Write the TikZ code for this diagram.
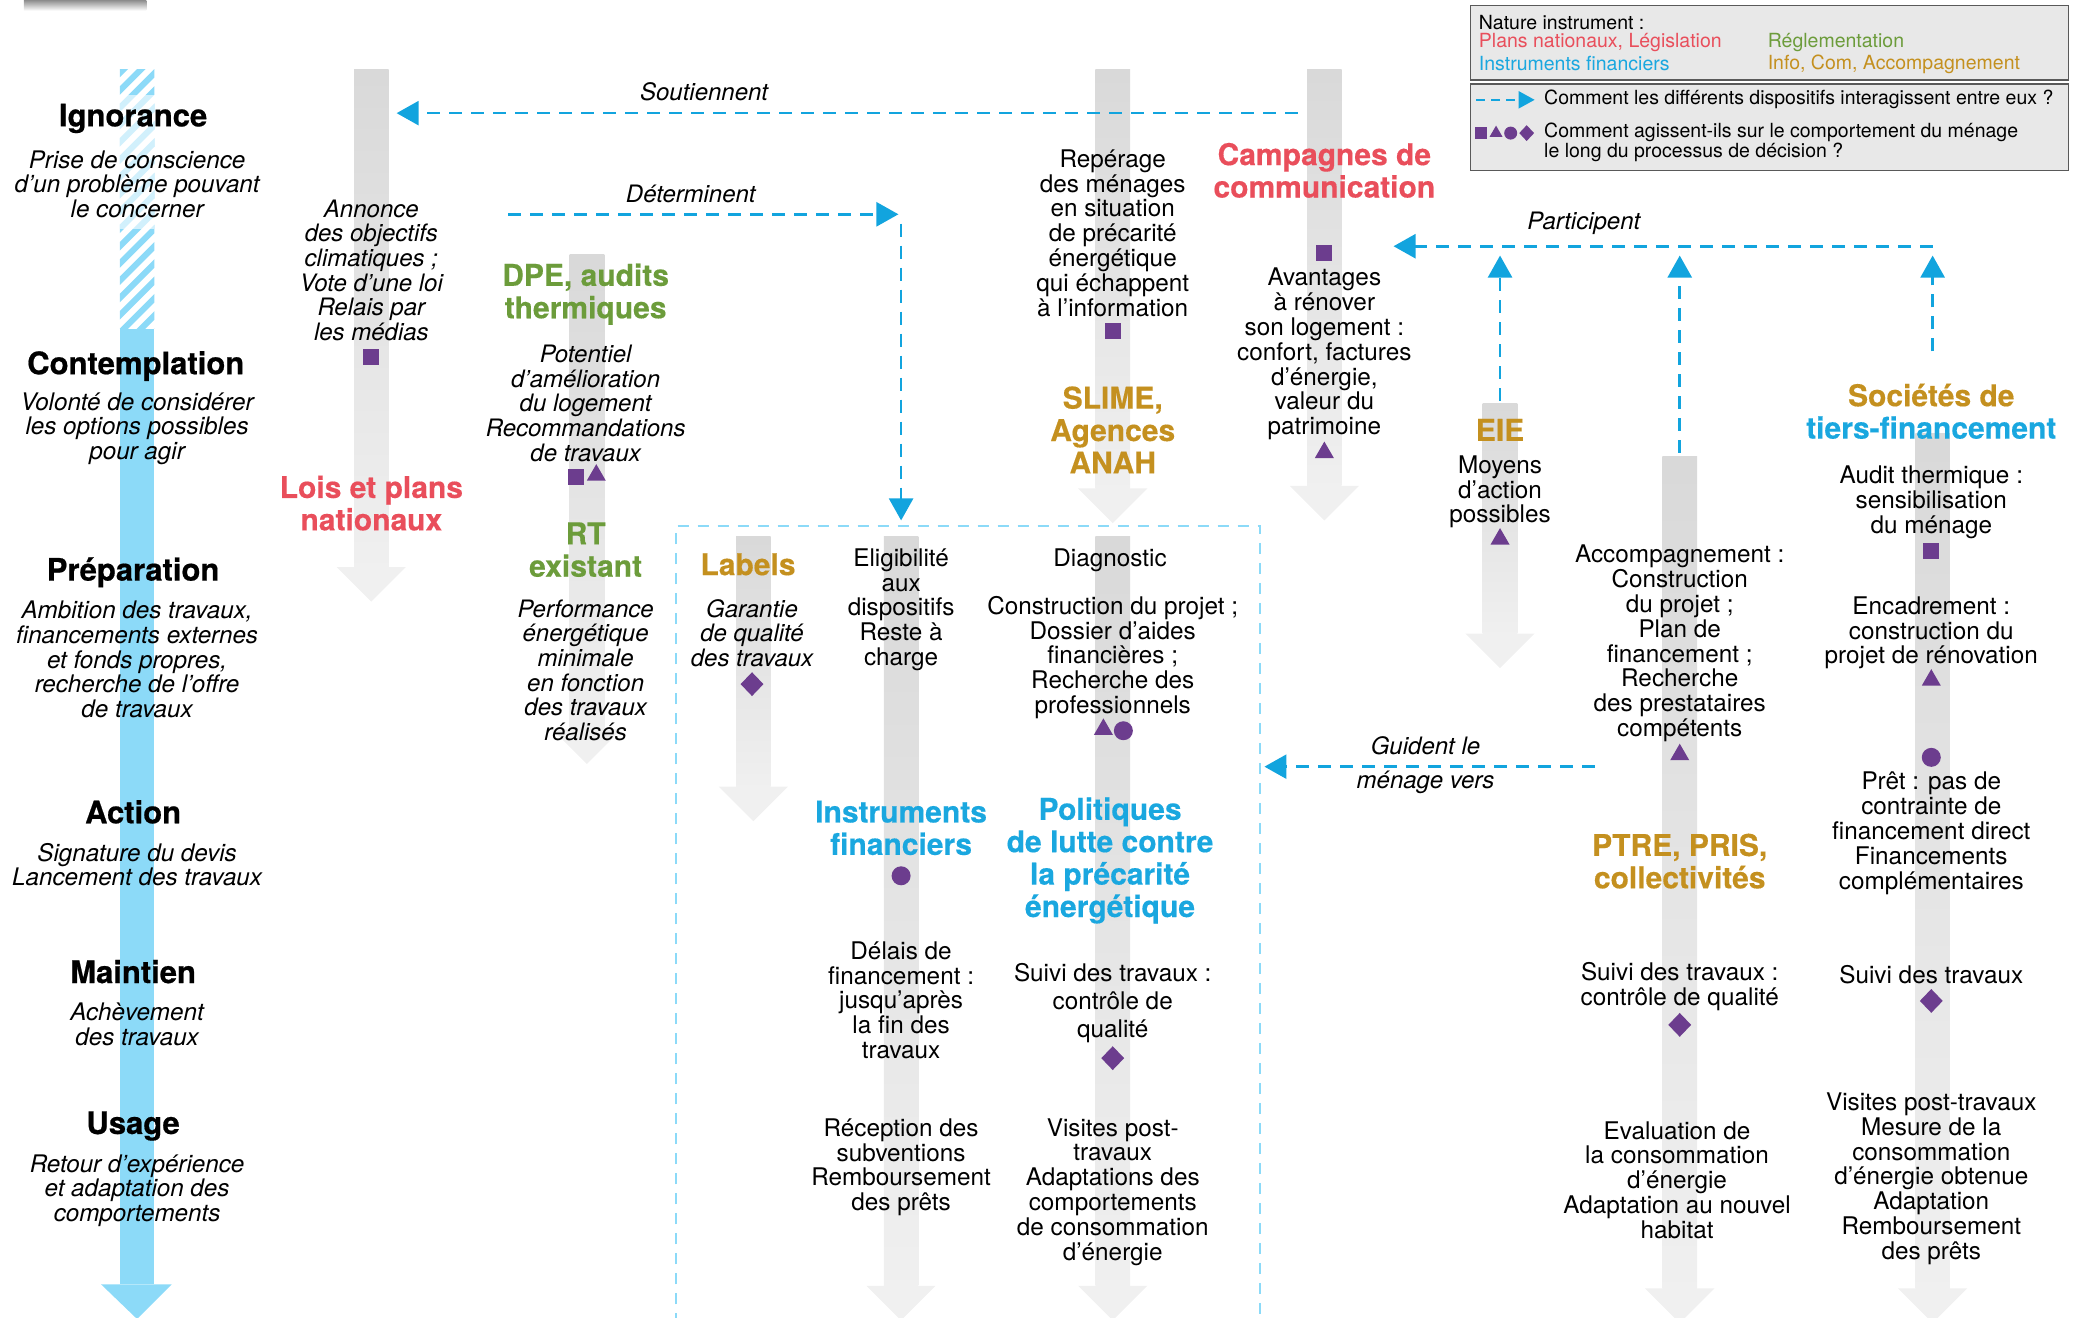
\documentclass[tikz,border=0pt]{standalone}
\usepackage{fontspec}
\setmainfont{TeX Gyre Heros}
\newfontfamily\heavyfont[FakeBold = 0.6]{TeX Gyre Heros}
\newfontfamily\titlefont[FakeBold = 0.35]{TeX Gyre Heros}
\usetikzlibrary{arrows.meta}
\usetikzlibrary{shapes.geometric}
\definecolor{plansred}{HTML}{E94E5B}
\definecolor{reglgreen}{HTML}{6C9C3B}
\definecolor{infogold}{HTML}{C4901F}
\definecolor{finblue}{HTML}{1AA7DF}
\definecolor{flowblue}{HTML}{12A4DE}
\definecolor{markpurple}{HTML}{6C3D8E}

\begin{document}
\begin{tikzpicture}[x = 1.331pt, y = -1.331pt,
  stage/.style = {font = \fontsize{31}{32}\selectfont\heavyfont\bfseries, inner sep = 0},
  stagetxt/.style = {align = center, font = \fontsize{24.2}{24.6}\selectfont\itshape, inner sep = 0},
  txt/.style = {align = center, font = \fontsize{24.3}{24.8}\selectfont, inner sep = 0},
  ittxt/.style = {txt, font = \fontsize{24}{24.6}\selectfont\itshape},
  ttl/.style = {align = center, font = \fontsize{30}{32.4}\selectfont\titlefont\bfseries, inner sep = 0},
  flow/.style = {draw = flowblue, line width = 2.6pt, dash pattern = on 13pt off 9pt, -{Triangle[length = 22pt, width = 24pt]}},
  flowlbl/.style = {font = \fontsize{24}{24}\selectfont\itshape, inner sep = 0},
  boxline/.style = {draw = boxblue, line width = 2pt, dash pattern = on 11pt off 9pt},
  mk/.style = {fill = markpurple, inner sep = 0},
  mksq/.style = {mk, rectangle, minimum size = 16pt},
  mktri/.style = {mk, regular polygon, regular polygon sides = 3, minimum size = 22pt},
  mkdot/.style = {mk, circle, minimum size = 19pt},
  mkdia/.style = {mk, diamond, minimum width = 23pt, minimum height = 24pt},
  legend/.style = {font = \fontsize{19.5}{19.5}\selectfont, inner sep = 0, anchor = west, align = left}]

\colorlet{timeline}{cyan!45!white}
\colorlet{boxblue}{cyan!45!white}
\colorlet{bartop}{black!15}
\colorlet{barbot}{black!6}
\colorlet{barhead}{black!6}

\def\grayarrow#1#2#3{%
  \shade[top color = bartop, bottom color = barbot] (#1-13,#2) rectangle (#1+13,#3);
  \fill[barhead] (#1-26,#3) -- (#1+26,#3) -- (#1,#3+26) -- cycle;}

\useasboundingbox (0,0) rectangle (1568,990);

\shade[top color = black!45, bottom color = white] (18,0) rectangle (110,8);

% decision timeline
\begin{scope}
\clip (90,52) rectangle (116,247);
\fill[white] (90,52) rectangle (116,247);
\foreach \k in {0,...,22} \draw[timeline, line width = 6pt] (80,52+\k*13) -- (130,2+\k*13);
\fill[white, opacity = 0.6] (90,71) rectangle (116,172);
\end{scope}
\fill[timeline] (90,247) rectangle (116,965);
\fill[timeline] (76,965) -- (129,965) -- (103,991) -- cycle;

% instrument columns
\grayarrow{279}{52}{426}
\grayarrow{441}{191}{548}
\grayarrow{566}{403}{591}
\grayarrow{677}{403}{966}
\grayarrow{836}{403}{966}
\grayarrow{836}{52}{367}
\grayarrow{995}{52}{365}
\grayarrow{1127}{303}{476}
\grayarrow{1262}{343}{968}
\grayarrow{1452}{326}{968}

\draw[boxline] (508,995) -- (508,395) -- (947,395) -- (947,995);

\node[stage] (ignor) at (100,89) {Ignorance};
\node[stagetxt] (ignorT) at (103,138.5) {Prise de conscience\\d’un problème pouvant\\le concerner};
\node[stage] (contemp) at (102,275) {Contemplation};
\node[stagetxt] (contempT) at (103,322) {Volonté de considérer\\les options possibles\\pour agir};
\node[stage] (prep) at (100,430) {Préparation};
\node[stagetxt] (prepT) at (103,495.5) {Ambition des travaux,\\financements externes\\et fonds propres,\\recherche de l’offre\\de travaux};
\node[stage] (action) at (100,610) {Action};
\node[stagetxt] (actionT) at (103,649.5) {Signature du devis\\Lancement des travaux};
\node[stage] (maint) at (100,730) {Maintien};
\node[stagetxt] (maintT) at (103,769.5) {Achèvement\\des travaux};
\node[stage] (usage) at (100,846) {Usage};
\node[stagetxt] (usageT) at (103,894.5) {Retour d’expérience\\et adaptation des\\comportements};

\node[ittxt] (loisT) at (279,203) {Annonce\\des objectifs\\climatiques ;\\Vote d’une loi\\Relais par\\les médias};
\node[mksq] (loisM) at (279,268) {};
\node[ttl, text = plansred] (lois) at (279,378) {Lois et plans\\nationaux};

\node[ttl, text = reglgreen] (dpe) at (440,221) {DPE, audits\\thermiques};
\node[ittxt] (dpeT) at (440,303) {Potentiel\\d’amélioration\\du logement\\Recommandations\\de travaux};
\node[mksq] (dpeM1) at (433,358) {};
\node[mktri] (dpeM2) at (448,357) {};
\node[ttl, text = reglgreen] (rt) at (440,413) {RT\\existant};
\node[ittxt] (rtT) at (440,503.5) {Performance\\énergétique\\minimale\\en fonction\\des travaux\\réalisés};

\node[ttl, text = infogold] (labels) at (562,424) {Labels};
\node[ittxt] (labelsT) at (565,475.5) {Garantie\\de qualité\\des travaux};
\node[mkdia] (labelsM) at (565,514) {};

\node[txt] (finT1) at (677,458) {Eligibilité\\aux\\dispositifs\\Reste à\\charge};
\node[ttl, text = finblue] (fin) at (677,622) {Instruments\\financiers};
\node[mkdot] (finM) at (677,658) {};
\node[txt] (finT2) at (677,751.5) {Délais de\\financement :\\jusqu’après\\la fin des\\travaux};
\node[txt] (finT3) at (677,877) {Réception des\\subventions\\Remboursement\\des prêts};

\node[txt] (precT1) at (834,421) {Diagnostic};
\node[txt] (precT2) at (836,494) {Construction du projet ;\\Dossier d’aides\\financières ;\\Recherche des\\professionnels};
\node[mktri] (precM1) at (829,548) {};
\node[mkdot] (precM2) at (844,549) {};
\node[ttl, text = finblue] (prec) at (834,646.5) {Politiques\\de lutte contre\\la précarité\\énergétique};
\node[txt] (precT3) at (836,753.5) {Suivi des travaux :\\[3pt]contrôle de\\[3pt]qualité};
\node[mkdia] (precM3) at (836,795) {};
\node[txt] (precT4) at (836,895.5) {Visites post-\\travaux\\Adaptations des\\comportements\\de consommation\\d’énergie};

\node[txt] (slimeT) at (836,175) {Repérage\\des ménages\\en situation\\de précarité\\énergétique\\qui échappent\\à l’information};
\node[mksq] (slimeM) at (836,249) {};
\node[ttl, text = infogold] (slime) at (836,323) {SLIME,\\Agences\\ANAH};

\node[ttl, text = plansred] (camp) at (995,128) {Campagnes de\\communication};
\node[mksq] (campM1) at (995,190) {};
\node[txt] (campT) at (995,266) {Avantages\\à rénover\\son logement :\\confort, factures\\d’énergie,\\valeur du\\patrimoine};
\node[mktri] (campM2) at (995,340) {};

\node[ttl, text = infogold] (eie) at (1127,323) {EIE};
\node[txt] (eieT) at (1127,369.5) {Moyens\\d’action\\possibles};
\node[mktri] (eieM) at (1127,405) {};

\node[txt] (ptreT1) at (1262,483.5) {Accompagnement :\\Construction\\du projet ;\\Plan de\\financement ;\\Recherche\\des prestataires\\compétents};
\node[mktri] (ptreM1) at (1262,567) {};
\node[ttl, text = infogold] (ptre) at (1262,647) {PTRE, PRIS,\\collectivités};
\node[txt] (ptreT2) at (1262,741.5) {Suivi des travaux :\\contrôle de qualité};
\node[mkdia] (ptreM2) at (1262,770) {};
\node[txt] (ptreT3) at (1260,886.5) {Evaluation de\\la consommation\\d’énergie\\Adaptation au nouvel\\habitat};

\node[ttl] (tiers) at (1451,309) {\textcolor{infogold}{Sociétés de}\\\textcolor{finblue}{tiers-financement}};
\node[txt] (tiersT1) at (1451,377.5) {Audit thermique :\\sensibilisation\\du ménage};
\node[mksq] (tiersM1) at (1451,414) {};
\node[txt] (tiersT2) at (1451,475.5) {Encadrement :\\construction du\\projet de rénovation};
\node[mktri] (tiersM2) at (1451,511) {};
\node[mkdot] (tiersM3) at (1451,569) {};
\node[txt] (tiersT3) at (1451,626) {Prêt : pas de\\contrainte de\\financement direct\\Financements\\complémentaires};
\node[txt] (tiersT4) at (1451,732) {Suivi des travaux};
\node[mkdia] (tiersM4) at (1451,752) {};
\node[txt] (tiersT5) at (1451,885.5) {Visites post-travaux\\Mesure de la\\consommation\\d’énergie obtenue\\Adaptation\\Remboursement\\des prêts};

% interactions
\coordinate (soutA) at (975,85);
\coordinate (soutB) at (298,85);
\draw[flow] (soutA) -- (soutB);
\node[flowlbl] (lblsout) at (529,69) {Soutiennent};

\coordinate (detA) at (382,161);
\coordinate (detB) at (675,161);
\coordinate (detC) at (677,168);
\coordinate (detD) at (677,391);
\draw[flow] (detA) -- (detB);
\draw[flow] (detC) -- (detD);
\node[flowlbl] (lbldet) at (519,146) {Déterminent};

\coordinate (partA) at (1452,185);
\coordinate (partB) at (1047,185);
\coordinate (eieUp) at (1127,301);
\coordinate (eieTop) at (1127,192);
\coordinate (ptreUp) at (1262,340);
\coordinate (ptreTop) at (1262,192);
\coordinate (tiersUp) at (1452,264);
\coordinate (tiersTop) at (1452,192);
\draw[flow] (partA) -- (partB);
\draw[flow] (eieUp) -- (eieTop);
\draw[flow] (ptreUp) -- (ptreTop);
\draw[flow] (tiersUp) -- (tiersTop);
\node[flowlbl] (lblpart) at (1190,168) {Participent};

\coordinate (guidA) at (1198,576);
\coordinate (guidB) at (950,576);
\draw[flow] (guidA) -- (guidB);
\node[flowlbl] (lblguid1) at (1071,560) {Guident le};
\node[flowlbl] (lblguid2) at (1071,588) {ménage vers};

% legend
\filldraw[fill = black!9, draw = black!65, line width = 1.3pt] (1105,4) rectangle (1554,60);
\filldraw[fill = black!9, draw = black!65, line width = 1.3pt] (1105,63) rectangle (1554,128);
\node[legend] (legNat) at (1111,17) {Nature instrument :};
\node[legend, text = plansred] (legPlans) at (1111,32) {Plans nationaux, Législation};
\node[legend, text = reglgreen] (legRegl) at (1328,32) {Réglementation};
\node[legend, text = finblue] (legFin) at (1111,48) {Instruments financiers};
\node[legend, text = infogold] (legInfo) at (1328,48) {Info, Com, Accompagnement};
\coordinate (legA) at (1109,75);
\coordinate (legB) at (1153,75);
\draw[flow, line width = 2pt, dash pattern = on 9pt off 6pt, -{Triangle[length = 16pt, width = 17pt]}] (legA) -- (legB);
\node[legend] (legFlow) at (1160,75) {Comment les différents dispositifs interagissent entre eux ?};
\node[mksq, minimum size = 12pt] (legM1) at (1113,100) {};
\node[mktri, minimum size = 15pt] (legM2) at (1124,100) {};
\node[mkdot, minimum size = 13pt] (legM3) at (1135,100) {};
\node[mkdia, minimum width = 15pt, minimum height = 16pt] (legM4) at (1147,100) {};
\node[legend] (legMark) at (1160,107) {Comment agissent-ils sur le comportement du ménage\\le long du processus de décision ?};
\end{tikzpicture}
\end{document}
